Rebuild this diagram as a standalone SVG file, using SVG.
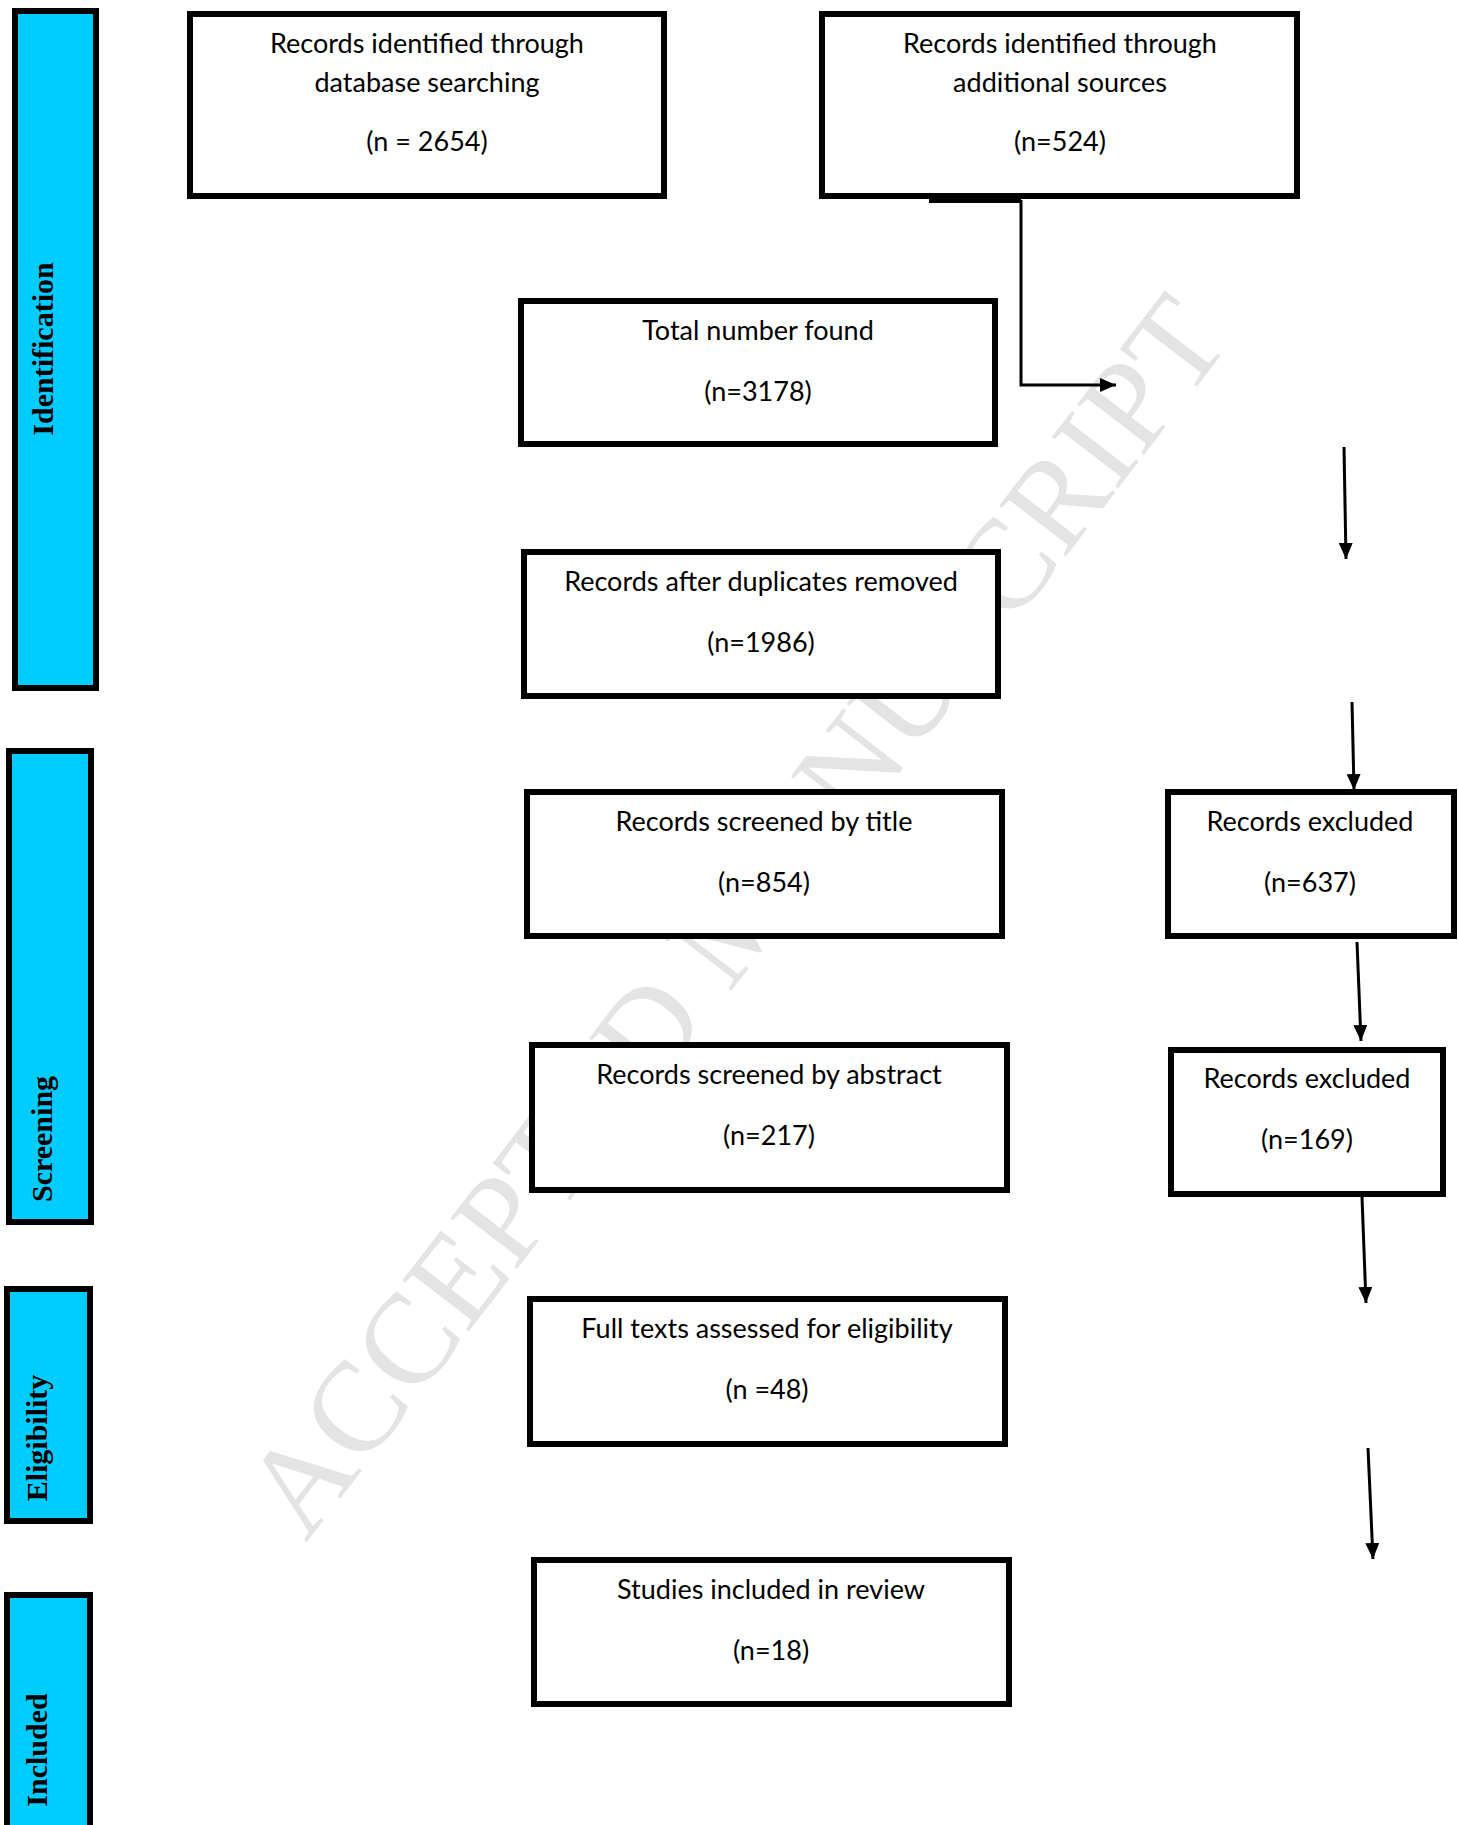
<svg xmlns="http://www.w3.org/2000/svg" width="1458" height="1825" viewBox="0 0 1458 1825">
<style>
.bg{fill:#ffffff}
.wm{font-family:"Liberation Serif","Times New Roman",serif;font-size:128px;fill:#e4e4e4}
.box{fill:#ffffff;stroke:#000000;stroke-width:6}
.bar{fill:#00ccff;stroke:#000000;stroke-width:6}
.t{font-family:Lato,"Liberation Sans",sans-serif;font-size:27px;fill:#000000;text-anchor:middle}
.lbl{font-family:"Liberation Serif","Times New Roman",serif;font-weight:bold;font-size:30px;fill:#000000;text-anchor:middle}
.con{fill:none;stroke:#000000;stroke-width:3}
</style>
<defs>
<marker id="ah" viewBox="0 0 16 14" refX="16" refY="7" markerWidth="16" markerHeight="14" markerUnits="userSpaceOnUse" orient="auto">
<path d="M0,0 L16,7 L0,14 Z" fill="#000000"/>
</marker>
</defs>
<rect class="bg" x="0" y="0" width="1458" height="1825"/>
<text class="wm" transform="translate(306,1543) rotate(-52.4)">ACCEPTED MANUSCRIPT</text>

<g id="stage-identification">
<rect class="bar" x="15" y="11" width="81" height="677"/>
<text class="lbl" transform="translate(53,349) rotate(-90)">Identification</text>
</g>
<g id="stage-screening">
<rect class="bar" x="9" y="751" width="82" height="471"/>
<text class="lbl" transform="translate(52,1139) rotate(-90)">Screening</text>
</g>
<g id="stage-eligibility">
<rect class="bar" x="7" y="1289" width="83" height="232"/>
<text class="lbl" transform="translate(47,1438) rotate(-90)">Eligibility</text>
</g>
<g id="stage-included">
<rect class="bar" x="7" y="1595" width="83" height="250"/>
<text class="lbl" transform="translate(47,1750) rotate(-90)">Included</text>
</g>

<g id="node-database">
<rect class="box" x="190" y="14" width="474" height="182"/>
<text class="t" x="427" y="53">Records identified through</text>
<text class="t" x="427" y="92">database searching</text>
<text class="t" x="427" y="151">(n = 2654)</text>
</g>
<g id="node-additional">
<rect class="box" x="822" y="14" width="475" height="182"/>
<text class="t" x="1060" y="53">Records identified through</text>
<text class="t" x="1060" y="92">additional sources</text>
<text class="t" x="1060" y="151">(n=524)</text>
</g>
<g id="node-total">
<rect class="box" x="521" y="301" width="474" height="143"/>
<text class="t" x="758" y="340">Total number found</text>
<text class="t" x="758" y="401">(n=3178)</text>
</g>
<g id="node-duplicates">
<rect class="box" x="524" y="552" width="474" height="144"/>
<text class="t" x="761" y="591">Records after duplicates removed</text>
<text class="t" x="761" y="652">(n=1986)</text>
</g>
<g id="node-title">
<rect class="box" x="527" y="792" width="475" height="144"/>
<text class="t" x="764" y="831">Records screened by title</text>
<text class="t" x="764" y="892">(n=854)</text>
</g>
<g id="node-excluded1">
<rect class="box" x="1168" y="792" width="286" height="144"/>
<text class="t" x="1310" y="831">Records excluded</text>
<text class="t" x="1310" y="892">(n=637)</text>
</g>
<g id="node-abstract">
<rect class="box" x="532" y="1045" width="475" height="145"/>
<text class="t" x="769" y="1084">Records screened by abstract</text>
<text class="t" x="769" y="1145">(n=217)</text>
</g>
<g id="node-excluded2">
<rect class="box" x="1171" y="1050" width="272" height="144"/>
<text class="t" x="1307" y="1088">Records excluded</text>
<text class="t" x="1307" y="1149">(n=169)</text>
</g>
<g id="node-fulltext">
<rect class="box" x="530" y="1299" width="475" height="145"/>
<text class="t" x="767" y="1338">Full texts assessed for eligibility</text>
<text class="t" x="767" y="1399">(n =48)</text>
</g>
<g id="node-included">
<rect class="box" x="534" y="1560" width="475" height="144"/>
<text class="t" x="771" y="1599">Studies included in review</text>
<text class="t" x="771" y="1660">(n=18)</text>
</g>

<g id="connectors">
<line x1="929" y1="201" x2="1021" y2="201" stroke="#000000" stroke-width="4"/>
<path class="con" d="M1021,200 V385 H1116" marker-end="url(#ah)"/>
<path class="con" d="M1344,447 L1346,559" marker-end="url(#ah)"/>
<path class="con" d="M1352,702 L1354,790" marker-end="url(#ah)"/>
<path class="con" d="M1357,942 L1361,1041" marker-end="url(#ah)"/>
<path class="con" d="M1362,1197 L1366,1303" marker-end="url(#ah)"/>
<path class="con" d="M1368,1448 L1373,1559" marker-end="url(#ah)"/>
</g>
</svg>
